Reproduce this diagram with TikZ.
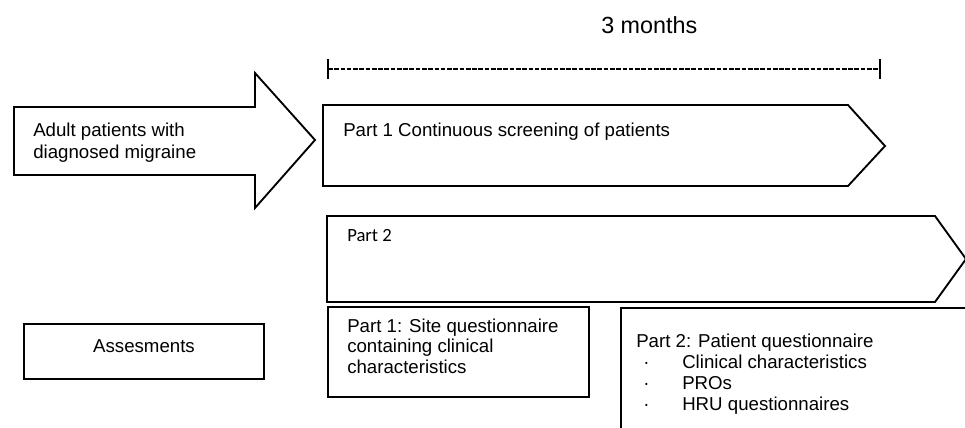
\documentclass[tikz,border=0pt]{standalone}
\usepackage{fontspec}
\setmainfont{Liberation Sans}
\newfontfamily\calib{Carlito}
\begin{document}
\begin{tikzpicture}[x=0.75pt,y=-0.75pt,
  shp/.style={draw=black,line width=1.4pt,line join=miter,fill=white},
  txt/.style={inner sep=0pt,font=\fontsize{14pt}{16pt}\selectfont},
  bul/.style={inner sep=0pt,font=\fontsize{14pt}{16pt}\selectfont},
  bar/.style={line width=1.6pt}]
\useasboundingbox (0,0) rectangle (965,428);
\clip (0,0) rectangle (965,428);
% timeline
\node[inner sep=0pt,anchor=base west,font=\fontsize{17.5pt}{20pt}\selectfont] (months) at (601,34) {3 months};
\coordinate (tl) at (328,69);
\coordinate (tr) at (880,69);
\draw[line width=1.1pt,dash pattern=on 3.5pt off 1.2pt] (tl) -- (tr);
\draw[bar] ([yshift=-7.2pt]tl) -- ([yshift=7.2pt]tl);
\draw[bar] ([yshift=-7.2pt]tr) -- ([yshift=7.2pt]tr);
% big arrow
\draw[shp] (14,107) -- (255,107) -- (255,73) -- (315,140) -- (255,208) -- (255,175) -- (14,175) -- cycle;
\node[txt,anchor=base west] (adult1) at (33,137) {Adult patients with};
\node[txt,anchor=base west] (adult2) at (33,158) {diagnosed migraine};
% part 1 arrow
\draw[shp] (323,105) -- (848,105) -- (885,146) -- (848,186) -- (323,186) -- cycle;
\node[txt,anchor=base west] (p1) at (343,137) {Part 1 Continuous screening of patients};
% part 2 arrow
\draw[shp] (327,216) -- (935,216) -- (966,259) -- (935,302) -- (327,302) -- cycle;
\node[inner sep=0pt,anchor=base west,font=\calib\fontsize{14pt}{16pt}\selectfont] (p2) at (347,241) {Part 2};
% assessments
\draw[shp] (24,324) rectangle (264,379);
\node[txt,anchor=base] (ass) at (144,352) {Assesments};
% part 1 site box
\draw[shp] (328,307) rectangle (589,397);
\node[txt,anchor=base west] (s1) at (347,332) {Part 1: Site questionnaire};
\node[txt,anchor=base west] (s2) at (347,352.5) {containing clinical};
\node[txt,anchor=base west] (s3) at (347,373) {characteristics};
% part 2 patient box
\draw[shp] (621,440) -- (621,308) -- (980,308);
\node[txt,anchor=base west] (pat) at (636,347) {Part 2: Patient questionnaire};
\node[bul,anchor=base west] (b1) at (643,368) {·};
\node[txt,anchor=base west] (c1) at (682,368) {Clinical characteristics};
\node[bul,anchor=base west] (b2) at (643,389) {·};
\node[txt,anchor=base west] (c2) at (682,389) {PROs};
\node[bul,anchor=base west] (b3) at (643,410) {·};
\node[txt,anchor=base west] (c3) at (682,410) {HRU questionnaires};
\end{tikzpicture}
\end{document}
